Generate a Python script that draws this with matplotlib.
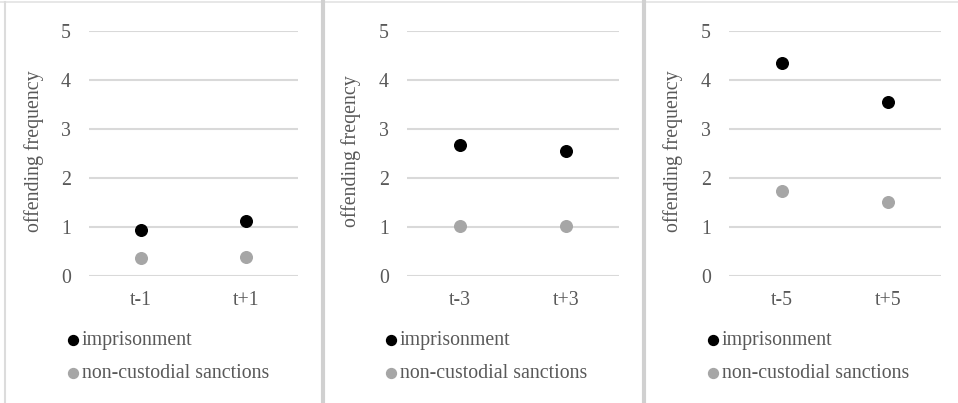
import matplotlib
matplotlib.use("Agg")
from matplotlib import pyplot as plt
from matplotlib.lines import Line2D

plt.rcParams['font.family'] = ['Liberation Serif', 'DejaVu Serif']

# data
cats = [["t-1", "t+1"], ["t-3", "t+3"], ["t-5", "t+5"]]
imprisonment = [[0.94, 1.12], [2.67, 2.55], [4.34, 3.56]]
noncustodial = [[0.36, 0.39], [1.02, 1.02], [1.73, 1.52]]
ylabels = ["offending frequency", "offending freqency", "offending frequency"]

txt = "#595959"
grid = "#d9d9d9"
black = "#000000"
gray = "#a6a6a6"
fs = 14.3

W, H = 958, 403
fig = plt.figure(figsize=(W / 100, H / 100), dpi=100)

# panel frames (separators)
fig.add_artist(Line2D([0, 1], [1 - 2 / H, 1 - 2 / H], color="#e3e3e3", lw=1.2))
fig.add_artist(Line2D([5 / W, 5 / W], [0, 1 - 2 / H], color="#dcdcdc", lw=1.5))
for xs in [322.7, 643.7]:
    fig.add_artist(Line2D([xs / W, xs / W], [0, 1 - 2 / H], color="#d0d0d0", lw=3))

lefts = [89, 407, 729]
rights = [298, 619, 941]
top, bottom = 31, 276

for i in range(3):
    ax = fig.add_axes([lefts[i] / W, 1 - bottom / H, (rights[i] - lefts[i]) / W, (bottom - top) / H])
    x = [0, 1]
    ax.scatter(x, imprisonment[i], s=70, color=black, zorder=3, label="imprisonment")
    ax.scatter(x, noncustodial[i], s=70, color=gray, zorder=3, label="non-custodial sanctions")
    ax.set_xlim(-0.5, 1.5)
    ax.set_ylim(0, 5)
    ax.set_yticks([0, 1, 2, 3, 4, 5])
    ax.set_xticks(x)
    ax.set_xticklabels(cats[i])
    for y in range(6):
        ax.axhline(y, color=grid, lw=1.5, zorder=1)
    for s in ax.spines.values():
        s.set_visible(False)
    ax.tick_params(axis='both', length=0, labelsize=fs, colors=txt)
    ax.tick_params(axis='y', pad=13)
    ax.tick_params(axis='x', pad=11)
    ax.set_ylabel(ylabels[i], fontsize=fs, color=txt)
    ax.yaxis.set_label_coords(-0.215, 0.51)
    ax.legend(loc='upper left', bbox_to_anchor=(-0.105, -0.225), frameon=False,
              fontsize=fs, labelcolor=txt, handlelength=0.6, handletextpad=0.15,
              labelspacing=0.72, markerscale=0.85, borderaxespad=0, borderpad=0)

fig.savefig("out.png", dpi=100)
